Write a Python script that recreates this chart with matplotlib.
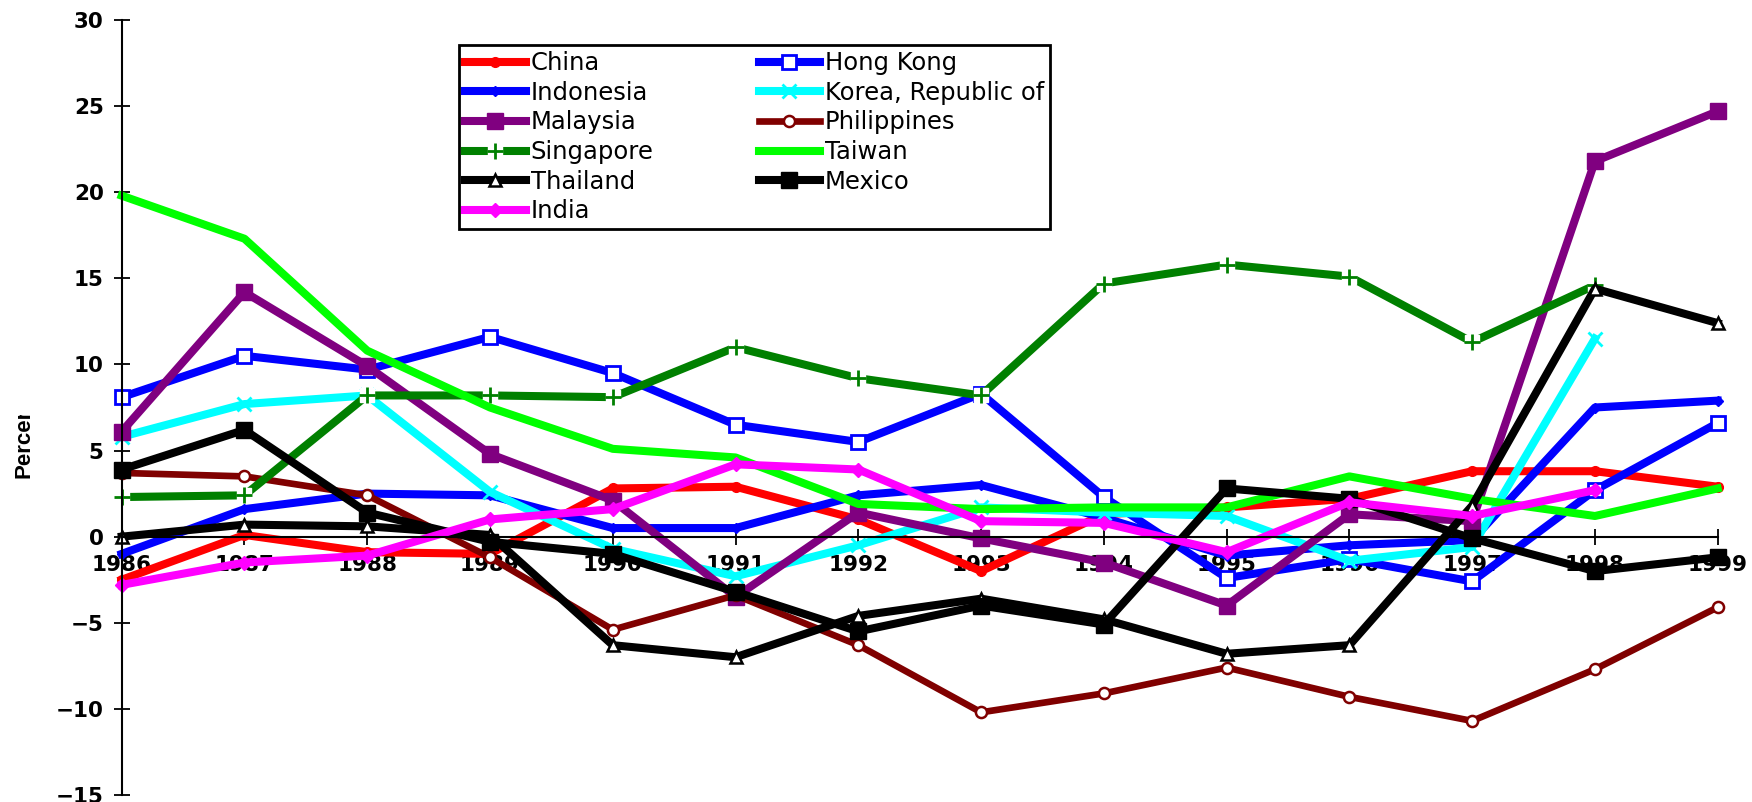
import numpy as np
import matplotlib
matplotlib.use("Agg")
import matplotlib.pyplot as plt
from matplotlib.transforms import Bbox
from matplotlib.legend_handler import HandlerTuple

nan = np.nan
years = list(range(1986, 2000))
china = [-2.5, 0.1, -0.9, -1.0, 2.8, 2.9, 1.0, -2.0, 1.3, 1.7, 2.2, 3.8, 3.8, 2.9]
hong_kong = [8.1, 10.5, 9.7, 11.6, 9.5, 6.5, 5.5, 8.3, 2.3, -2.4, -1.3, -2.6, 2.7, 6.6]
indonesia = [-1.0, 1.6, 2.5, 2.4, 0.5, 0.5, 2.4, 3.0, 1.1, -1.1, -0.5, -0.2, 7.5, 7.9]
korea = [5.8, 7.7, 8.2, 2.6, -0.7, -2.3, -0.5, 1.7, 1.4, 1.2, -1.4, -0.6, 11.5, nan]
malaysia = [6.1, 14.2, 9.9, 4.8, 2.1, -3.5, 1.4, -0.1, -1.5, -4.0, 1.3, 0.9, 21.8, 24.7]
philippines = [3.7, 3.5, 2.4, -1.2, -5.4, -3.4, -6.3, -10.2, -9.1, -7.6, -9.3, -10.7, -7.7, -4.1]
singapore = [2.3, 2.4, 8.2, 8.2, 8.1, 11.0, 9.2, 8.2, 14.7, 15.8, 15.1, 11.3, 14.6, nan]
taiwan = [19.8, 17.3, 10.8, 7.5, 5.1, 4.6, 1.9, 1.6, 1.7, 1.7, 3.5, 2.2, 1.2, 2.8]
thailand = [0.0, 0.7, 0.6, 0.1, -6.3, -7.0, -4.6, -3.6, -4.8, -6.8, -6.3, 1.8, 14.4, 12.4]
mexico = [3.9, 6.2, 1.4, -0.3, -1.0, -3.2, -5.5, -4.0, -5.1, 2.8, 2.2, -0.1, -2.0, -1.2]
india = [-2.8, -1.5, -1.1, 1.0, 1.6, 4.2, 3.9, 0.9, 0.8, -0.9, 2.0, 1.2, 2.7, nan]

fig = plt.figure(figsize=(17.52, 8.02), dpi=100)
ax = fig.add_axes([121.7 / 1752, 1 - 795 / 802, 1596 / 1752, 775 / 802])
ax.set_axisbelow(True)

lw = 5.8
h = {}
h["China"], = ax.plot(years, china, color="#ff0000", lw=lw, marker="o", ms=7, clip_on=False)
h["Hong Kong"], = ax.plot(years, hong_kong, color="#0000ff", lw=lw, marker="s", ms=10,
                          mfc="white", mec="#0000ff", mew=2, clip_on=False)
h["Indonesia"], = ax.plot(years, indonesia, color="#0000ff", lw=lw, marker="D", ms=5, clip_on=False)
h["Korea, Republic of"], = ax.plot(years, korea, color="#00ffff", lw=lw, marker="x", ms=10,
                                   mew=2, clip_on=False)
h["Malaysia"], = ax.plot(years, malaysia, color="#800080", lw=lw, marker="s", ms=11, clip_on=False)
h["Philippines"], = ax.plot(years, philippines, color="#800000", lw=4.8, marker="o", ms=8,
                            mfc="white", mec="#800000", mew=1.8, clip_on=False)
sg_line, = ax.plot(years, singapore, color="#008000", lw=lw, marker="s", ms=10,
                   mfc="white", mec="white", clip_on=False)
sg_plus, = ax.plot(years, singapore, color="#008000", ls="none", marker="+", ms=11,
                   mew=2, clip_on=False)
h["Singapore"] = (sg_line, sg_plus)
h["Taiwan"], = ax.plot(years, taiwan, color="#00ff00", lw=lw, clip_on=False)
h["Thailand"], = ax.plot(years, thailand, color="black", lw=lw, marker="^", ms=9,
                         mfc="white", mec="black", mew=1.8, clip_on=False)
h["Mexico"], = ax.plot(years, mexico, color="black", lw=lw, marker="s", ms=11, clip_on=False)
h["India"], = ax.plot(years, india, color="#ff00ff", lw=lw, marker="D", ms=7, clip_on=False)

ax.set_xlim(1986, 1999)
ax.set_ylim(-15, 30)
ax.set_yticks(range(-15, 31, 5))
ax.set_xticks(years)
ax.spines["top"].set_visible(False)
ax.spines["right"].set_visible(False)
ax.spines["bottom"].set_position(("data", 0))
ax.spines["left"].set_linewidth(1.5)
ax.spines["bottom"].set_linewidth(1.5)
ax.tick_params(axis="both", direction="inout", length=12, width=1.3,
               labelsize=15.5, pad=7)
for lab in ax.get_xticklabels() + ax.get_yticklabels():
    lab.set_fontweight("bold")

# y label is cut off in the original, keep it clipped the same way
ylab = fig.text(24 / 1752, 1 - 478 / 802, "Percent", rotation=90, ha="center", va="bottom",
                fontsize=16, fontweight="bold", family="Liberation Sans")
ylab.set_clip_box(Bbox.from_extents(0, 0, 200, 802 - 415))
ylab.set_clip_on(True)

order = ["China", "Indonesia", "Malaysia", "Singapore", "Thailand", "India",
         "Hong Kong", "Korea, Republic of", "Philippines", "Taiwan", "Mexico"]
leg = ax.legend([h[k] for k in order], order, ncol=2, loc="upper left",
                bbox_to_anchor=(459 / 1752, 1 - 46 / 802, 591 / 1752, 0.001),
                bbox_transform=fig.transFigure, mode="expand",
                fontsize=17.5, handlelength=2.5, handletextpad=0.2,
                labelspacing=0.23, borderpad=0.25, borderaxespad=0,
                fancybox=False, framealpha=1, edgecolor="black",
                handler_map={tuple: HandlerTuple(ndivide=1)})
leg.get_frame().set_linewidth(2)

fig.savefig("out.png", dpi=100)
